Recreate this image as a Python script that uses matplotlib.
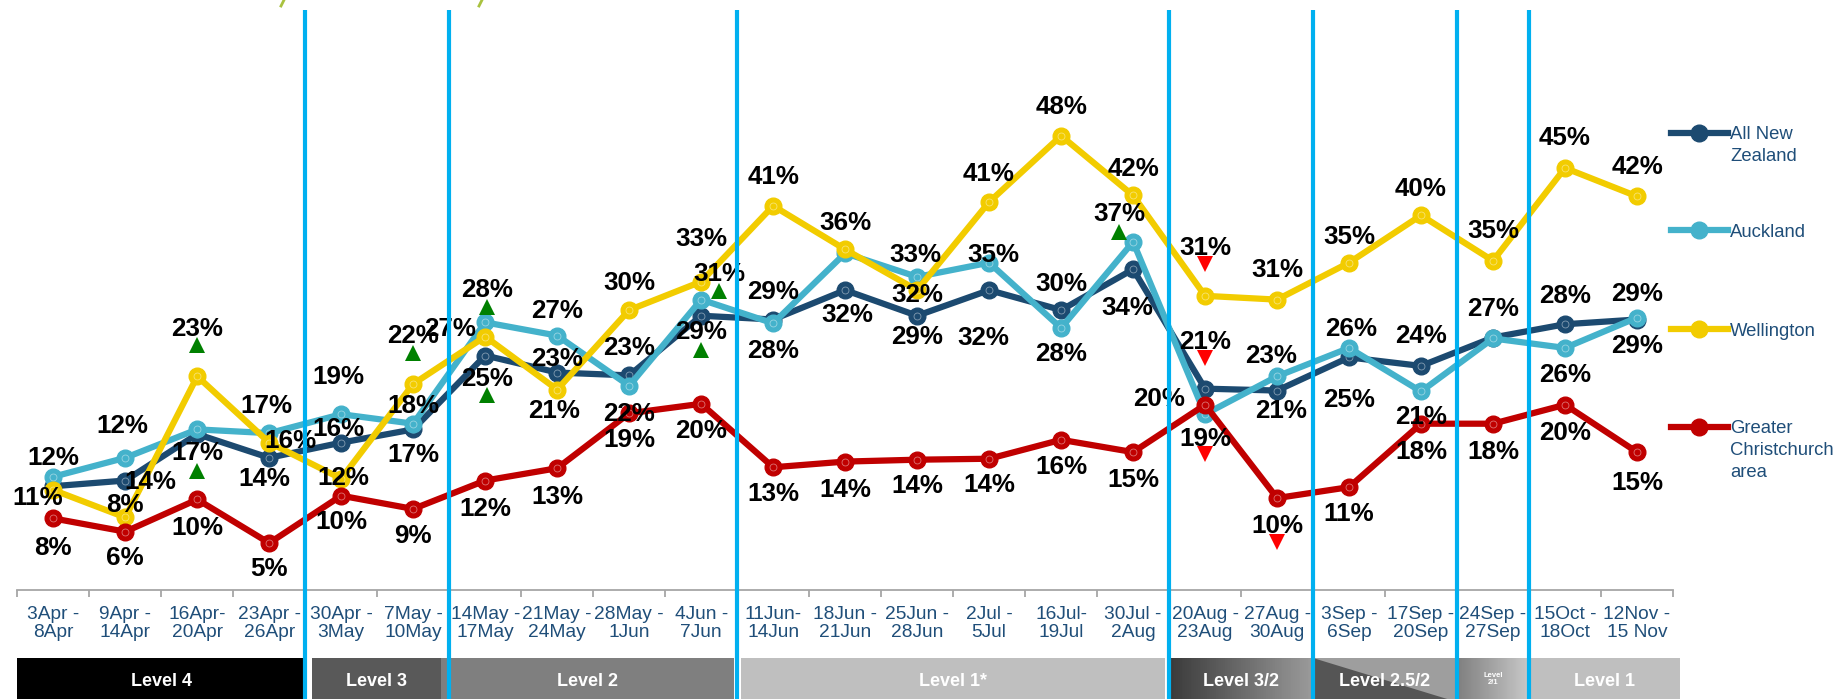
import matplotlib
matplotlib.use("Agg")
import matplotlib.pyplot as plt
import matplotlib.colors as mcolors
import numpy as np
from matplotlib.transforms import blended_transform_factory, offset_copy
from matplotlib.lines import Line2D
from matplotlib.patches import Rectangle, Polygon

plt.rcParams['font.family'] = ['Liberation Sans', 'DejaVu Sans']

# ---------------- data ----------------
categories = ["3Apr -\n8Apr", "9Apr -\n14Apr", "16Apr-\n20Apr", "23Apr -\n26Apr",
              "30Apr -\n3May", "7May -\n10May", "14May -\n17May", "21May -\n24May",
              "28May -\n1Jun", "4Jun -\n7Jun", "11Jun-\n14Jun", "18Jun -\n21Jun",
              "25Jun -\n28Jun", "2Jul -\n5Jul", "16Jul-\n19Jul", "30Jul -\n2Aug",
              "20Aug -\n23Aug", "27Aug -\n30Aug", "3Sep -\n6Sep", "17Sep -\n20Sep",
              "24Sep -\n27Sep", "15Oct -\n18Oct", "12Nov -\n15 Nov"]

anz = [11, 11.6, 16.5, 14, 15.6, 17, 24.8, 23, 22.7, 29, 28.6, 31.7, 29, 31.7,
       29.6, 33.9, 21.3, 21.1, 24.6, 23.7, 26.7, 28.1, 28.6]
akl = [12, 14, 17, 16.6, 18.6, 17.6, 28.3, 26.9, 21.6, 30.7, 28.2, 35.6, 33.1, 34.6,
       27.7, 36.8, 18.6, 22.6, 25.6, 21, 26.6, 25.6, 28.8]
wlg = [10.6, 7.7, 22.6, 15.6, 11.8, 21.8, 26.8, 21.2, 29.6, 32.6, 40.6, 36, 31.7, 41,
       48, 41.7, 31.1, 30.7, 34.6, 39.6, 34.8, 44.6, 41.6]
chc = [7.6, 6.2, 9.6, 5, 10, 8.6, 11.6, 12.9, 18.7, 19.7, 13, 13.6, 13.8, 13.9,
       15.9, 14.6, 19.6, 9.75, 10.9, 17.6, 17.6, 19.6, 14.6]

series_names = ["All New\nZealand", "Auckland", "Wellington", "Greater\nChristchurch\narea"]

# significance markers: (series index, category index, direction)
sig_marks = [(2, 2, 'up'), (1, 2, 'up'), (2, 5, 'up'), (1, 6, 'up'), (0, 6, 'up'),
             (1, 9, 'up'), (0, 9, 'up'), (1, 15, 'up'),
             (2, 16, 'down'), (0, 16, 'down'), (1, 16, 'down'), (3, 17, 'down')]

level_names = ['Level 4', 'Level 3', 'Level 2', 'Level 1*', 'Level 3/2',
               'Level 2.5/2', 'Level\n2/1', 'Level 1']
level_start = [-0.5, 3.6, 5.38, 9.55, 15.5, 17.5, 19.5, 20.5]
level_end = [3.5, 5.38, 9.45, 15.45, 17.5, 19.5, 20.5, 22.6]
phase_bounds = [3.5, 5.5, 9.5, 15.5, 17.5, 19.5, 20.5]

# ---------------- label placement (pixel offsets from the point) ----------------
anz_off = [None, (-3, 57), None, (-5, -19), (-3, 16), (0, -23), (2, -21), (0, 16.5),
           (0, 30), (0, -14), (0, 30), (2, -22), (0, -19), (-6, -45), (0, 29),
           (-6, -36), (0, 49), (4, -18), (0, -40), (0, 32), None, (0, 31), (0, -24)]
akl_off = [(0, 21), (25, -21.5), (0, -21), (-3, 30), (-3, 40), (0, 20), (2, 35),
           (0, 27), (0, -26), (18, 28), (0, -25), None, (-2, 24), (4, 10), (0, -23),
           (-14, 30), (0, -22.5), (-6, 23), (2, 21), (0, -23), (0, 32), (0, -25), (0, 26)]
wlg_off = [(-16, -5), (0, 15), (0, 49.6), (21, 4), (2, 3.6), (0, 50.6), (-35, 10),
           (-3, -19), (0, 30), (0, 45), (0, 31.5), (0, 29.4), (0, -2.6), (-1, 31),
           (0, 31.4), (0, 29.4), (0, 50), (0, 32), (0, 28.4), (0, 29.3), (0, 32),
           (0, 32), (0, 31.4)]
chc_off = [(0, -27), (0, -24), (0, -26.5), (0, -23), (0, -23.6), (0, -24.4), (0, -25.5),
           (0, -26), (0, -24), (0, -24.5), (0, -24), (0, -26), (0, -23.6), (0, -24),
           (0, -24.5), (0, -25.6), (-46, 8.7), (0, -25.3), (0, -24), (0, -25.6),
           (0, -25.6), (0, -25.3), (0, -28)]
sig_off = [(0, 31.3), (0, -41.3), (0, 31.2), (2, 15), (2, -39.5), (18, 9), (0, -34),
           (-14, 10), (0, 32), (0, 31), (0, -40), (0, -43.7)]

colors = ['#1C4A70', '#44B2CB', '#F2CC00', '#C00000']

# ---------------- figure ----------------
W, H = 1837, 699
fig = plt.figure(figsize=(W / 100, H / 100), dpi=100)
fig.patch.set_facecolor('white')
ax = fig.add_axes([17.3 / W, 1 - 590.4 / H, 1655.7 / W, 568.3 / H])
ax.patch.set_alpha(0)
x = np.arange(len(categories))

for s in ['top', 'right', 'left']:
    ax.spines[s].set_visible(False)
ax.spines['bottom'].set_color('#A6A6A6')
ax.spines['bottom'].set_linewidth(1.3)
ax.set_yticks([])
ax.set_xticks(np.arange(-0.5, len(categories), 1.0))
ax.set_xticklabels([])
ax.set_xticks(x, minor=True)
ax.set_xticklabels(categories, minor=True)
ax.tick_params(axis='x', which='major', length=5, width=1.3, color='#A6A6A6', direction='out')
ax.tick_params(axis='x', which='minor', length=0, pad=11.5, labelsize=13.8, labelcolor='#1F4E79')
for lab in ax.get_xticklabels(minor=True):
    lab.set_linespacing(1.05)

all_vals = [anz, akl, wlg, chc]
all_offs = [anz_off, akl_off, wlg_off, chc_off]
for k, (vals, offs, col) in enumerate(zip(all_vals, all_offs, colors)):
    ax.plot(x, vals, color=col, lw=4.5, marker='o', ms=12, mfc=col, mec=col,
            zorder=3 + 0.1 * k, clip_on=False)
    ax.plot(x, vals, ls='none', marker='o', ms=5, mfc='none', mec='white', mew=0.6,
            alpha=0.45, zorder=3.05 + 0.1 * k, clip_on=False)
    for i, (v, off) in enumerate(zip(vals, offs)):
        if off is None:
            continue
        ax.annotate(f"{v:.0f}%", (x[i], v), xytext=off, textcoords='offset pixels',
                    ha='center', va='center_baseline', fontsize=18.7,
                    fontweight='bold', color='black', zorder=6)

# significance triangles
for (si, ci, d), (dx, dy) in zip(sig_marks, sig_off):
    tr = offset_copy(ax.transData, fig=fig, x=dx, y=dy, units='dots')
    ax.plot([x[ci]], [all_vals[si][ci]], transform=tr, ls='none',
            marker='^' if d == 'up' else 'v', ms=12, mew=0,
            color='#008000' if d == 'up' else '#FF0000', zorder=6, clip_on=False)

# phase bars underneath the axis
trans = blended_transform_factory(ax.transData, ax.transAxes)
ytop, ybot = -0.119, -0.196
ylab = -0.156


def solid(x0, x1, c):
    ax.add_patch(Rectangle((x0, ybot), x1 - x0, ytop - ybot, transform=trans,
                           facecolor=c, edgecolor='none', clip_on=False, zorder=1))


def gradient(x0, x1, c0, c1, n=80):
    c0 = np.array(mcolors.to_rgb(c0))
    c1 = np.array(mcolors.to_rgb(c1))
    w = (x1 - x0) / n
    for j in range(n):
        t = j / (n - 1)
        ax.add_patch(Rectangle((x0 + j * w, ybot), w * 1.05, ytop - ybot, transform=trans,
                               facecolor=c0 * (1 - t) + c1 * t, edgecolor='none',
                               lw=0, clip_on=False, zorder=1))


for name, s0, s1 in zip(level_names, level_start, level_end):
    if name == 'Level 3/2':
        gradient(s0, s1, '#3A3A3A', '#9A9A9A')
    elif name == 'Level 2.5/2':
        solid(s0, s1, '#9E9E9E')
        ax.add_patch(Polygon([(s0, ytop), (s0, ybot), (s1, ybot)], closed=True,
                             transform=trans, facecolor='#555555', edgecolor='none',
                             clip_on=False, zorder=1.1))
    elif name == 'Level\n2/1':
        gradient(s0, s1, '#7F7F7F', '#C8C8C8')
    else:
        solid(s0, s1, {'Level 4': '#000000', 'Level 3': '#595959',
                       'Level 2': '#7F7F7F', 'Level 1*': '#BFBFBF',
                       'Level 1': '#BFBFBF'}[name])
    if '\n' in name:
        ax.text((s0 + s1) / 2, ylab, name, transform=trans, ha='center', va='center',
                fontsize=5.5, fontweight='bold', color='white', linespacing=1.0,
                zorder=2, clip_on=False)
    else:
        ax.text((s0 + s1) / 2, ylab, name, transform=trans, ha='center',
                va='center_baseline', fontsize=13, fontweight='bold', color='white',
                zorder=2, clip_on=False)

# phase separators
for b in phase_bounds:
    ax.plot([b, b], [1.021, -0.2], transform=trans, color='#00B0F0', lw=3,
            clip_on=False, zorder=7, solid_capstyle='butt')

# legend (manual, to the right)
leg_y = [132.7, 230, 329, 426.7]
for name, col, yy in zip(series_names, colors, leg_y):
    yf = 1 - yy / H
    fig.add_artist(Line2D([1671 / W, 1727.6 / W], [yf, yf], color=col, lw=4.5,
                          transform=fig.transFigure))
    fig.add_artist(Line2D([1698.6 / W], [yf], marker='o', ms=12, color=col,
                          transform=fig.transFigure))
    for j, t in enumerate(name.split('\n')):
        fig.text(1730 / W, 1 - (yy + 22 * j) / H, t, ha='left', va='center_baseline',
                 fontsize=13.3, color='#1F4E79')

# cropped title fragments at the very top
for xx in [282, 480]:
    fig.add_artist(Line2D([(xx + 2) / W, (xx - 1) / W], [1.0, 1 - 6 / H],
                          color='#A9C23F', lw=2, transform=fig.transFigure))

ax.set_xlim(-0.5, 22.5)
ax.set_ylim(0, 60)
fig.savefig('out.png', dpi=100, facecolor='white')
